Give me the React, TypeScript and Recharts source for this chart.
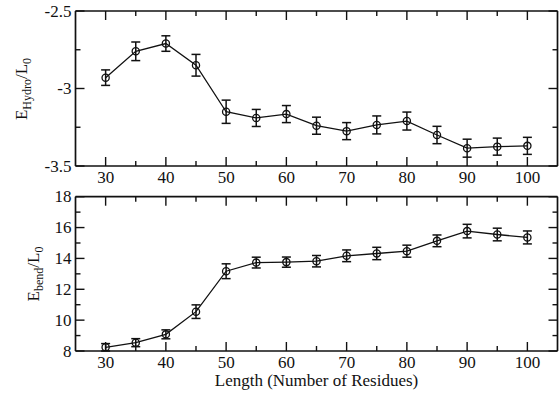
import React from 'react';
import { LineChart, Line, XAxis, YAxis, ErrorBar } from 'recharts';

const lengths = [30, 35, 40, 45, 50, 55, 60, 65, 70, 75, 80, 85, 90, 95, 100];
const hydro = [-2.93, -2.76, -2.71, -2.85, -3.15, -3.19, -3.165, -3.24, -3.275, -3.235, -3.21, -3.3, -3.385, -3.375, -3.37];
const hydroErr = [0.05, 0.06, 0.05, 0.07, 0.075, 0.055, 0.055, 0.055, 0.055, 0.058, 0.058, 0.056, 0.058, 0.055, 0.055];
const bend = [8.24, 8.54, 9.08, 10.55, 13.17, 13.73, 13.76, 13.82, 14.17, 14.32, 14.47, 15.14, 15.77, 15.55, 15.36];
const bendErr = [0.24, 0.26, 0.29, 0.44, 0.48, 0.35, 0.33, 0.37, 0.38, 0.4, 0.39, 0.38, 0.44, 0.41, 0.42];

const xTicks = [30, 35, 40, 45, 50, 55, 60, 65, 70, 75, 80, 85, 90, 95, 100];
const hydroTicks = [-3.5, -3.25, -3, -2.75, -2.5];
const bendTicks = [8, 9, 10, 11, 12, 13, 14, 15, 16, 17, 18];

const FONT = 'Liberation Serif, Times New Roman, DejaVu Serif, serif';
const INK = '#111';
const MAJOR = 9;
const MINOR = 5;
const textStyle = { fontFamily: FONT, fontSize: 17, fill: INK };

const hydroData = lengths.map((x, i) => ({ x, y: hydro[i], err: hydroErr[i] }));
const bendData = lengths.map((x, i) => ({ x, y: bend[i], err: bendErr[i] }));

const isMajorX = (v: number) => v % 10 === 0;
const isMajorHydro = (v: number) => Math.abs(v * 2 - Math.round(v * 2)) < 1e-6;
const isMajorBend = (v: number) => v % 2 === 0;

// inward tick marks, labelled only on major values
const BottomTick = (props: any) => {
  const { x, y, payload } = props;
  const major = isMajorX(payload.value);
  return (
    <g>
      <line x1={x} x2={x} y1={y} y2={y - (major ? MAJOR : MINOR)} stroke={INK} strokeWidth={1.4} />
      {major && (
        <text x={x} y={y + 11} textAnchor="middle" dominantBaseline="central" style={textStyle}>
          {payload.value}
        </text>
      )}
    </g>
  );
};

const TopTick = (props: any) => {
  const { x, y, payload } = props;
  const major = isMajorX(payload.value);
  return <line x1={x} x2={x} y1={y} y2={y + (major ? MAJOR : MINOR)} stroke={INK} strokeWidth={1.4} />;
};

const makeLeftTick = (isMajor: (v: number) => boolean) => (props: any) => {
  const { x, y, payload } = props;
  const major = isMajor(payload.value);
  return (
    <g>
      <line x1={x} x2={x + (major ? MAJOR : MINOR)} y1={y} y2={y} stroke={INK} strokeWidth={1.4} />
      {major && (
        <text x={x - 4} y={y} textAnchor="end" dominantBaseline="central" style={textStyle}>
          {payload.value}
        </text>
      )}
    </g>
  );
};

const makeRightTick = (isMajor: (v: number) => boolean) => (props: any) => {
  const { x, y, payload } = props;
  const major = isMajor(payload.value);
  return <line x1={x} x2={x - (major ? MAJOR : MINOR)} y1={y} y2={y} stroke={INK} strokeWidth={1.4} />;
};

const Marker = (props: any) => {
  const { cx, cy } = props;
  if (cx == null || cy == null) return null;
  return <circle cx={cx} cy={cy} r={3.6} fill="none" stroke={INK} strokeWidth={1.3} />;
};

// rotated label "E_sub / L_0"
const EnergyLabel = ({ cx, cy, sub }: { cx: number; cy: number; sub: string }) => (
  <text x={cx} y={cy} transform={`rotate(-90 ${cx} ${cy})`} textAnchor="middle" style={textStyle}>
    <tspan>E</tspan>
    <tspan style={{ fontSize: 12 }} dy={4}>{sub}</tspan>
    <tspan dy={-4}>/L</tspan>
    <tspan style={{ fontSize: 12 }} dy={4}>0</tspan>
  </text>
);

const XLabel = (props: any) => {
  const { viewBox } = props;
  const cx = viewBox.x + viewBox.width / 2;
  return (
    <text x={cx} y={viewBox.y + 29} textAnchor="middle" dominantBaseline="central" style={textStyle}>
      Length (Number of Residues)
    </text>
  );
};

const axisLine = { stroke: INK, strokeWidth: 1.7 };

export default function App() {
  return (
    <div style={{ position: 'absolute', left: 0, top: 0, width: 559, height: 393, background: '#fff' }}>
      <div style={{ position: 'absolute', left: 0, top: 0 }}>
        <LineChart width={559} height={190} data={hydroData} margin={{ top: 10, right: 0.5, left: 0, bottom: 0 }}>
          <XAxis dataKey="x" type="number" domain={[25, 105]} ticks={xTicks} interval={0} height={24}
            axisLine={axisLine} tickLine={false} tickSize={0} tickMargin={0} tick={BottomTick} />
          <XAxis xAxisId="top" orientation="top" dataKey="x" type="number" domain={[25, 105]} ticks={xTicks} interval={0}
            height={1} axisLine={axisLine} tickLine={false} tickSize={0} tickMargin={0} tick={TopTick} allowDataOverflow />
          <YAxis type="number" domain={[-3.5, -2.5]} ticks={hydroTicks} interval={0} width={75.5}
            axisLine={axisLine} tickLine={false} tickSize={0} tickMargin={0} tick={makeLeftTick(isMajorHydro)} allowDataOverflow
            label={<EnergyLabel cx={27} cy={89} sub="Hydro" />} />
          <YAxis yAxisId="right" orientation="right" type="number" domain={[-3.5, -2.5]} ticks={hydroTicks} interval={0}
            width={1} axisLine={axisLine} tickLine={false} tickSize={0} tickMargin={0} tick={makeRightTick(isMajorHydro)} allowDataOverflow />
          <Line dataKey="y" type="linear" stroke={INK} strokeWidth={1.3} dot={Marker} activeDot={false} isAnimationActive={false}>
            <ErrorBar dataKey="err" width={4.5} stroke={INK} strokeWidth={1.5} direction="y" isAnimationActive={false} />
          </Line>
        </LineChart>
      </div>
      <div style={{ position: 'absolute', left: 0, top: 185 }}>
        <LineChart width={559} height={208} data={bendData} margin={{ top: 10.7, right: 0.5, left: 0, bottom: 0 }}>
          <XAxis dataKey="x" type="number" domain={[25, 105]} ticks={xTicks} interval={0} height={42}
            axisLine={axisLine} tickLine={false} tickSize={0} tickMargin={0} tick={BottomTick}
            label={<XLabel />} />
          <XAxis xAxisId="top" orientation="top" dataKey="x" type="number" domain={[25, 105]} ticks={xTicks} interval={0}
            height={1} axisLine={axisLine} tickLine={false} tickSize={0} tickMargin={0} tick={TopTick} allowDataOverflow />
          <YAxis type="number" domain={[8, 18]} ticks={bendTicks} interval={0} width={75.5}
            axisLine={axisLine} tickLine={false} tickSize={0} tickMargin={0} tick={makeLeftTick(isMajorBend)} allowDataOverflow
            label={<EnergyLabel cx={39} cy={89} sub="bend" />} />
          <YAxis yAxisId="right" orientation="right" type="number" domain={[8, 18]} ticks={bendTicks} interval={0}
            width={1} axisLine={axisLine} tickLine={false} tickSize={0} tickMargin={0} tick={makeRightTick(isMajorBend)} allowDataOverflow />
          <Line dataKey="y" type="linear" stroke={INK} strokeWidth={1.3} dot={Marker} activeDot={false} isAnimationActive={false}>
            <ErrorBar dataKey="err" width={4.5} stroke={INK} strokeWidth={1.5} direction="y" isAnimationActive={false} />
          </Line>
        </LineChart>
      </div>
    </div>
  );
}
